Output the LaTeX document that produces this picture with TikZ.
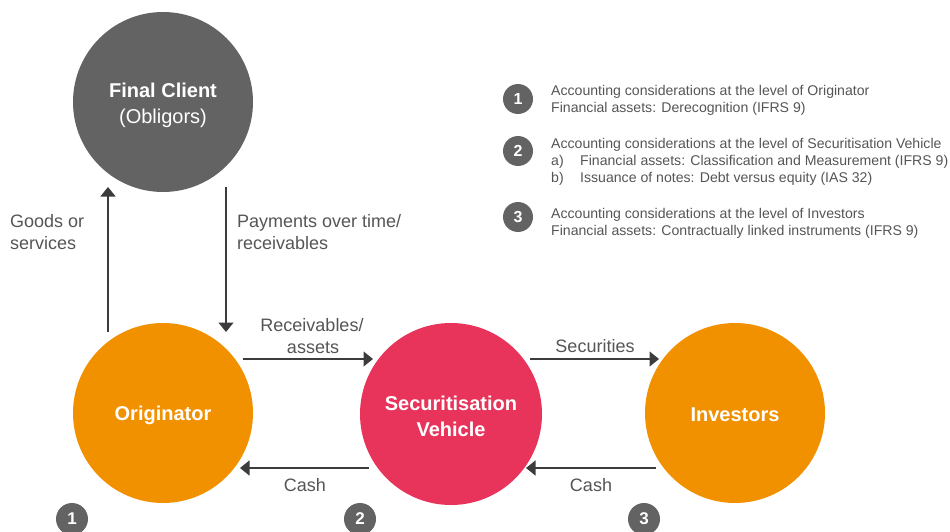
\documentclass[tikz,border=0pt]{standalone}
\usepackage{fontspec}
\setmainfont{Liberation Sans}
\usetikzlibrary{arrows.meta}
\definecolor{cgrey}{HTML}{636363}
\definecolor{corange}{HTML}{F29100}
\definecolor{cpink}{HTML}{E8345B}
\definecolor{ctext}{HTML}{555555}
\definecolor{carrow}{HTML}{3C3C3C}
\begin{document}
\begin{tikzpicture}[x=1pt,y=-1pt,
  bigcirc/.style={circle,minimum size=180pt,inner sep=0pt},
  ctitle/.style={text=white,align=center,inner sep=0pt,font=\fontsize{20}{26}\selectfont},
  badge/.style={circle,fill=cgrey,minimum size=32pt,inner sep=0pt,text=white,font=\bfseries\fontsize{17}{17}\selectfont},
  lbadge/.style={badge,minimum size=30pt,font=\bfseries\fontsize{16}{16}\selectfont},
  flow/.style={draw=carrow,line width=1.4pt,-{Triangle[length=9.5pt,width=15pt]}},
  lab/.style={text=ctext,inner sep=0pt,font=\fontsize{18}{22}\selectfont},
  leg/.style={text=ctext,inner sep=0pt,anchor=base west,font=\fontsize{14.1}{17}\selectfont}]
\useasboundingbox (0,0) rectangle (950,532);
% main circles
\node[bigcirc,fill=cgrey] (client) at (163,102) {};
\node[bigcirc,fill=corange] (orig) at (163,413) {};
\node[bigcirc,fill=cpink,minimum size=182pt] (veh) at (451,414) {};
\node[bigcirc,fill=corange] (inv) at (735,413) {};
\node[ctitle] (clientT) at (163,105) {\textbf{Final Client}\\(Obligors)};
\node[ctitle] (origT) at (163,415) {\textbf{Originator}};
\node[ctitle] (vehT) at (451,416) {\textbf{Securitisation}\\\textbf{Vehicle}};
\node[ctitle] (invT) at (735,415) {\textbf{Investors}};
% bottom badges
\node[badge] (b1) at (72,519) {1};
\node[badge] (b2) at (360,519) {2};
\node[badge] (b3) at (644,519) {3};
% connector end points
\coordinate (gA) at (108,332);
\coordinate (gB) at (108,187);
\coordinate (pA) at (226,187);
\coordinate (pB) at (226,332);
\coordinate (rA) at (243,359);
\coordinate (rB) at (373,359);
\coordinate (sA) at (530,359);
\coordinate (sB) at (659,359);
\coordinate (cA) at (369,468);
\coordinate (cB) at (240,468);
\coordinate (dA) at (656,468);
\coordinate (dB) at (526,468);
\draw[flow] (gA) -- (gB);
\draw[flow] (pA) -- (pB);
\draw[flow] (rA) -- (rB);
\draw[flow] (sA) -- (sB);
\draw[flow] (cA) -- (cB);
\draw[flow] (dA) -- (dB);
% arrow labels
\node[lab,anchor=base west] (goods1) at (10,227.5) {Goods or};
\node[lab,anchor=base west] (goods2) at (10,249.5) {services};
\node[lab,anchor=base west] (pay1) at (237,227.5) {Payments over time/};
\node[lab,anchor=base west] (pay2) at (237,249.5) {receivables};
\node[lab,anchor=base] (rec1) at (312,331.5) {Receivables/};
\node[lab,anchor=base] (rec2) at (313,353) {assets};
\node[lab,anchor=base] (sec) at (595,352.5) {Securities};
\node[lab,anchor=base] (cash1) at (305,491.5) {Cash};
\node[lab,anchor=base] (cash2) at (591,491.5) {Cash};
% legend
\node[lbadge] (l1) at (518,99) {1};
\node[lbadge] (l2) at (518,151) {2};
\node[lbadge] (l3) at (518,217) {3};
\node[leg] (t1a) at (551,96) {Accounting considerations at the level of Originator};
\node[leg] (t1b) at (551,113) {Financial assets: Derecognition (IFRS 9)};
\node[leg] (t2a) at (551,148) {Accounting considerations at the level of Securitisation Vehicle};
\node[leg] (t2b) at (551,165) {a)};
\node[leg] (t2c) at (580,165) {Financial assets: Classification and Measurement (IFRS 9)};
\node[leg] (t2d) at (551,182) {b)};
\node[leg] (t2e) at (580,182) {Issuance of notes: Debt versus equity (IAS 32)};
\node[leg] (t3a) at (551,218) {Accounting considerations at the level of Investors};
\node[leg] (t3b) at (551,235) {Financial assets: Contractually linked instruments (IFRS 9)};
\end{tikzpicture}
\end{document}
